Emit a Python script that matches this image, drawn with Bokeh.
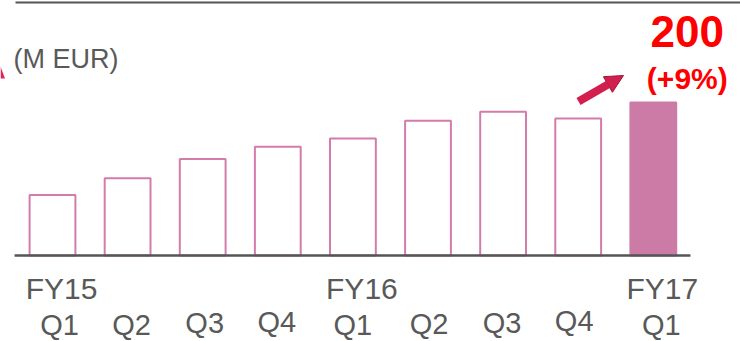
from bokeh.plotting import figure
from bokeh.models import Range1d, ColumnDataSource, Arrow, NormalHead
from bokeh.core.properties import value
from bokeh.embed import file_html
from bokeh.resources import INLINE

# Quarterly values (M EUR)
quarters = ["Q1", "Q2", "Q3", "Q4", "Q1", "Q2", "Q3", "Q4", "Q1"]
fiscal_years = ["FY15", "", "", "", "FY16", "", "", "", "FY17"]
revenue = [79, 101, 126, 142, 153, 176, 188, 179, 200]
latest_label = "200"
growth_label = "(+9%)"
unit_label = "(M EUR)"

W, H = 740, 341
BAR0_PX = 52      # pixel centre of the first bar
STEP_PX = 75.1    # pixel distance between bars
BASE_PX = 255     # pixel row of the zero line
PX_PER_UNIT = 0.765
BASELINE_SHIFT = 0.37  # alphabetic baseline sits this many font sizes low

def ypx(py):
    """Data y for a pixel row measured from the top."""
    return (BASE_PX - py) / PX_PER_UNIT

def xpx(px):
    return (px - BAR0_PX) / STEP_PX

def ytext(py, size):
    """Data y that puts a text baseline on pixel row py."""
    return ypx(py - BASELINE_SHIFT * size)

p = figure(width=W, height=H, output_backend="svg", toolbar_location=None,
           x_range=Range1d(xpx(0), xpx(W)), y_range=Range1d(ypx(H), ypx(0)),
           x_axis_location=None, y_axis_location=None, min_border=0,
           outline_line_color=None, background_fill_color="white")
p.grid.visible = False

FONT = value("Liberation Sans")
GREY = "#595959"
PINK_LINE = "#d27cab"
PINK_FILL = "#cc7ba6"
RED = "#ff0000"

n = len(revenue)
idx = list(range(n))
src = ColumnDataSource(dict(
    x=idx, top=revenue,
    fill=["white"] * (n - 1) + [PINK_FILL],
    line=[PINK_LINE] * (n - 1) + [PINK_FILL],
))
p.vbar(x="x", top="top", width=0.61, bottom=0, source=src,
       fill_color="fill", line_color="line", line_width=2)

# zero line and top rule
p.segment(x0=[-0.505], y0=[0], x1=[n - 0.505], y1=[0], line_color="#555555", line_width=2.5)
p.segment(x0=[xpx(15)], y0=[ypx(2)], x1=[xpx(W)], y1=[ypx(2)], line_color="#555555", line_width=2)

# small arrow tip peeking in at the left edge
p.patch(x=[xpx(0), xpx(4.5), xpx(0)], y=[ypx(66), ypx(78), ypx(78)],
        fill_color="#e0245a", line_color=None)

# unit label
p.text(x=[xpx(13)], y=[ytext(68, 27)], text=[unit_label], text_font=FONT,
       text_font_size="27px", text_color=GREY, text_align="left", text_baseline="alphabetic")

# category labels
fy_idx = [i for i, f in enumerate(fiscal_years) if f]
p.text(x=fy_idx, y=[ytext(299.5, 30)] * len(fy_idx), text=[fiscal_years[i] for i in fy_idx],
       x_offset=9, text_font=FONT, text_font_size="30px", text_color=GREY,
       text_align="center", text_baseline="alphabetic")

q_base = [335, 335, 333, 332, 335, 334, 333, 331, 335]
q_dx = [7, 4, 2, -1, 0, 1, -1, -4, 8]
p.text(x=idx, y=[ytext(b, 29) for b in q_base], text=quarters, x_offset=q_dx,
       text_font=FONT, text_font_size="29px", text_color=GREY,
       text_align="center", text_baseline="alphabetic")

# highlight of the latest quarter
last = n - 1
p.text(x=[last], y=[ytext(47, 44)], text=[latest_label], x_offset=34, text_font=FONT,
       text_font_size="44px", text_font_style="bold", text_color=RED,
       text_align="center", text_baseline="alphabetic")
p.text(x=[last], y=[ytext(89, 30)], text=[growth_label], x_offset=34, text_font=FONT,
       text_font_size="30px", text_font_style="bold", text_color=RED,
       text_align="center", text_baseline="alphabetic")

p.add_layout(Arrow(x_start=xpx(578), y_start=ypx(101), x_end=xpx(623), y_end=ypx(75),
                   line_color="#d21f4e", line_width=8,
                   end=NormalHead(size=18, fill_color="#d21f4e", line_color="#9e1537", line_width=1)))

open("out.html", "w").write(file_html(p, INLINE))
